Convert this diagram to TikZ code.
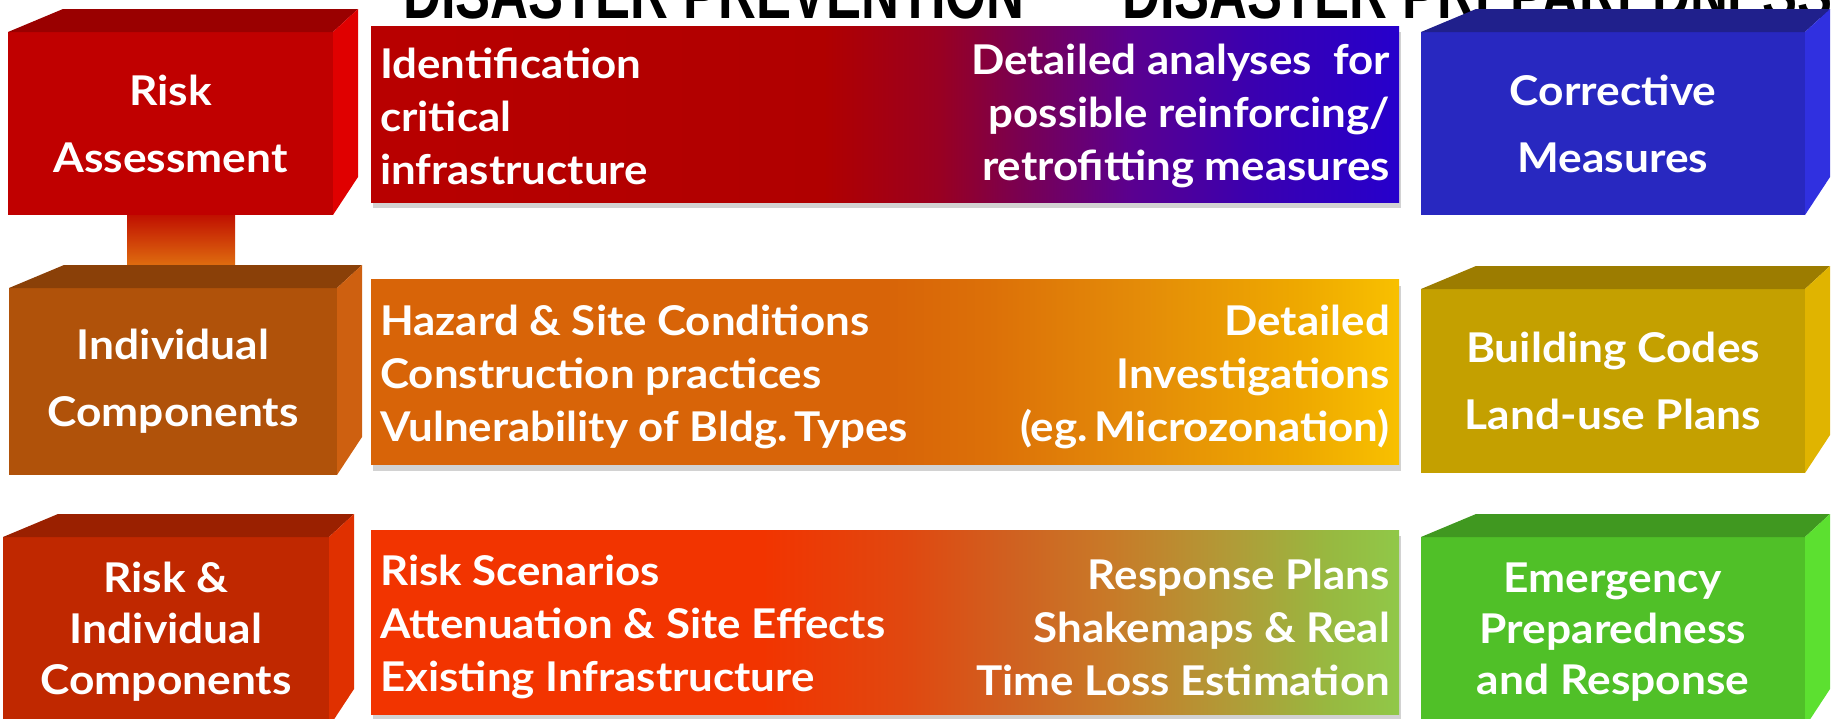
\documentclass[tikz,border=0pt]{standalone}
\usepackage{fontspec}
\setmainfont{Lato}
\newfontfamily\boxfont{Lato}[FakeStretch=1.08]
\newfontfamily\condfont{Lato}[FakeStretch=1.07]
\newfontfamily\headfont{Liberation Sans}[FakeStretch=0.75]
\usetikzlibrary{calc,shadows}

% block colours: front, top, side
\definecolor{raFront}{HTML}{C00000}\definecolor{raTop}{HTML}{9A0000}\definecolor{raSide}{HTML}{E00000}
\definecolor{icFront}{HTML}{B0520A}\definecolor{icTop}{HTML}{8A4008}\definecolor{icSide}{HTML}{CE6010}
\definecolor{ricFront}{HTML}{C02800}\definecolor{ricTop}{HTML}{9A2000}\definecolor{ricSide}{HTML}{E03000}
\definecolor{cmFront}{HTML}{2828C0}\definecolor{cmTop}{HTML}{20208C}\definecolor{cmSide}{HTML}{3030E0}
\definecolor{bcFront}{HTML}{C4A000}\definecolor{bcTop}{HTML}{9C7C00}\definecolor{bcSide}{HTML}{E0B400}
\definecolor{epFront}{HTML}{50C028}\definecolor{epTop}{HTML}{409820}\definecolor{epSide}{HTML}{5CE030}
\definecolor{stemTop}{HTML}{C01000}\definecolor{stemBot}{HTML}{E07010}

% band colours
\definecolor{bOneA}{HTML}{B80000}\definecolor{bOneB}{HTML}{B00000}\definecolor{bOneC}{HTML}{9A0020}
\definecolor{bOneD}{HTML}{7A0050}\definecolor{bOneE}{HTML}{5A0090}\definecolor{bOneF}{HTML}{3A00B0}
\definecolor{bOneG}{HTML}{2600CC}
\definecolor{bTwoA}{HTML}{D86408}\definecolor{bTwoB}{HTML}{DC7008}\definecolor{bTwoC}{HTML}{E48C08}
\definecolor{bTwoD}{HTML}{EEA800}\definecolor{bTwoE}{HTML}{F8C000}
\definecolor{bThrA}{HTML}{F23400}\definecolor{bThrB}{HTML}{E04810}\definecolor{bThrC}{HTML}{D06020}
\definecolor{bThrD}{HTML}{C87A28}\definecolor{bThrE}{HTML}{B09C38}\definecolor{bThrF}{HTML}{98B840}
\definecolor{bThrG}{HTML}{90C848}

\pgfdeclarehorizontalshading{bandone}{100bp}{color(0bp)=(bOneA); color(25bp)=(bOneA);
  color(47bp)=(bOneB); color(52.5bp)=(bOneC); color(56.5bp)=(bOneD); color(62bp)=(bOneE);
  color(68bp)=(bOneF); color(75bp)=(bOneG); color(100bp)=(bOneG)}
\pgfdeclarehorizontalshading{bandtwo}{100bp}{color(0bp)=(bTwoA); color(25bp)=(bTwoA);
  color(50bp)=(bTwoA); color(55bp)=(bTwoB); color(62.5bp)=(bTwoC); color(70bp)=(bTwoD);
  color(75bp)=(bTwoE); color(100bp)=(bTwoE)}
\pgfdeclarehorizontalshading{bandthree}{100bp}{color(0bp)=(bThrA); color(25bp)=(bThrA);
  color(44bp)=(bThrA); color(51bp)=(bThrB); color(56bp)=(bThrC); color(61bp)=(bThrD);
  color(67bp)=(bThrE); color(71.5bp)=(bThrF); color(75bp)=(bThrG); color(100bp)=(bThrG)}

% top and side faces of a block, hung on its front node
\newcommand{\blockfaces}[3]{%
  \fill[#2] (#1.north west) -- ++(55,-23) -- ($(#1.north east)+(25,-23)$) -- (#1.north east) -- cycle;
  \fill[#3] (#1.north east) -- ++(25,-23) -- ($(#1.south east)+(25,-38)$) -- (#1.south east) -- cycle;
}

\begin{document}
\begin{tikzpicture}[x=1pt, y=-1pt,
  face/.style={rectangle, inner sep=0pt, outer sep=0pt, text=white, align=center,
               font=\boxfont\bfseries\fontsize{41}{67}\selectfont},
  band/.style={rectangle, inner sep=0pt, outer sep=0pt, minimum width=1028pt,
               drop shadow={shadow xshift=2pt, shadow yshift=-6pt, opacity=.35}},
  bandtext/.style={inner sep=0pt, text=white, font=\condfont\bfseries\fontsize{41}{53}\selectfont},
  heading/.style={inner sep=0pt, anchor=base west, font=\headfont\bfseries\fontsize{70}{70}\selectfont}
]
\fill[white] (0,0) rectangle (1843,718);
\useasboundingbox (0,0) rectangle (1843,718);
\clip (0,0) rectangle (1843,718);

% column headings
\node[heading] (prevHead) at (403,18) {DISASTER PREVENTION};
\node[heading] (prepHead) at (1122,18) {DISASTER PREPAREDNESS};

% left column
\node[face, fill=raFront, minimum width=325pt, minimum height=183pt] (riskA) at (170.5,123.5) {Risk\\Assessment};
\blockfaces{riskA}{raTop}{raSide}
\shade[top color=stemTop, bottom color=stemBot] ($(riskA.south)+(-43.5,0)$) rectangle ($(riskA.south)+(64.5,52)$);

\node[face, fill=icFront, minimum width=328pt, minimum height=187pt] (indC) at (173,381.5) {Individual\\Components};
\blockfaces{indC}{icTop}{icSide}

\node[face, fill=ricFront, minimum width=326pt, minimum height=190pt,
      font=\boxfont\bfseries\fontsize{41}{51}\selectfont] (riskIC) at (166,632) {Risk \&\\Individual\\Components};
\blockfaces{riskIC}{ricTop}{ricSide}

% middle bands
\node[band, shading=bandone, minimum height=176pt] (midOne) at (885,114) {};
\node[bandtext, anchor=west, align=left, xshift=9pt, yshift=-2pt] (midOneL) at (midOne.west)
  {Identification\\critical\\infrastructure};
\node[bandtext, anchor=east, align=right, xshift=-9pt, yshift=-2pt] (midOneR) at (midOne.east)
  {Detailed analyses\ \ for\\possible reinforcing/\\retrofitting measures};

\node[band, shading=bandtwo, minimum height=185pt] (midTwo) at (885,372) {};
\node[bandtext, anchor=west, align=left, xshift=9pt, yshift=-5pt] (midTwoL) at (midTwo.west)
  {Hazard \& Site Conditions\\Construction practices\\Vulnerability of Bldg.\,Types};
\node[bandtext, anchor=east, align=right, xshift=-9pt, yshift=-5pt] (midTwoR) at (midTwo.east)
  {Detailed\\Investigations\\(eg.\,Microzonation)};

\node[band, shading=bandthree, minimum height=184pt] (midThree) at (885,622) {};
\node[bandtext, anchor=west, align=left, xshift=9pt, yshift=-5pt] (midThreeL) at (midThree.west)
  {Risk Scenarios\\Attenuation \& Site Effects\\Existing Infrastructure};
\node[bandtext, anchor=east, align=right, xshift=-9pt, yshift=-5pt] (midThreeR) at (midThree.east)
  {Response Plans\\Shakemaps \& Real\\Time Loss Estimation};

% right column
\node[face, fill=cmFront, minimum width=384pt, minimum height=183pt] (corrM) at (1613,123.5) {Corrective\\Measures};
\blockfaces{corrM}{cmTop}{cmSide}

\node[face, fill=bcFront, minimum width=384pt, minimum height=184pt] (buildC) at (1613,381) {Building Codes\\Land-use Plans};
\blockfaces{buildC}{bcTop}{bcSide}

\node[face, fill=epFront, minimum width=384pt, minimum height=190pt,
      font=\boxfont\bfseries\fontsize{41}{51}\selectfont] (emergP) at (1613,632) {Emergency\\Preparedness\\and Response};
\blockfaces{emergP}{epTop}{epSide}

\end{tikzpicture}
\end{document}
